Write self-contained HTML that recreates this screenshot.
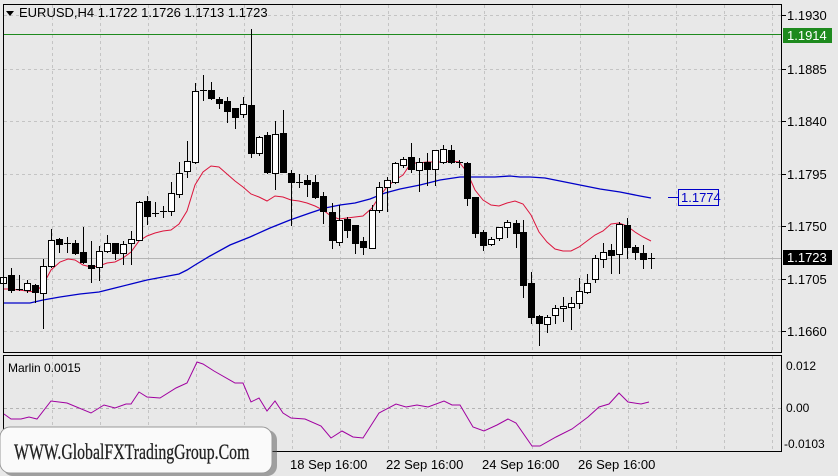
<!DOCTYPE html>
<html><head><meta charset="utf-8"><style>
html,body{margin:0;padding:0;background:#e8e8e8;width:838px;height:476px;overflow:hidden}
svg{display:block}
text{font-family:"Liberation Sans","DejaVu Sans",sans-serif;font-size:12px;fill:#000}
</style></head><body>
<svg id="s" width="838" height="476" xmlns="http://www.w3.org/2000/svg">
<rect x="0" y="0" width="838" height="476" fill="#e8e8e8"/>
<g id="grid" stroke="#c4c4c4" stroke-dasharray="3,3" stroke-width="1"></g>
<line x1="3" y1="258.5" x2="782" y2="258.5" stroke="#b4b4b4"/>
<line x1="3" y1="34.5" x2="782" y2="34.5" stroke="#1e8a1e"/>
<polyline id="blue" fill="none" stroke="#0000c8" stroke-width="1.3"/>
<polyline id="red" fill="none" stroke="#dc143c" stroke-width="1"/>
<g id="cand"></g>
<line x1="668" y1="197.5" x2="678" y2="197.5" stroke="#0000c8"/>
<rect x="678.5" y="189.5" width="40" height="16" fill="none" stroke="#0000c8"/>
<text x="681" y="202" style="fill:#0000c8;font-size:13px">1.1774</text>
<rect x="3.5" y="4.5" width="778" height="348" fill="none" stroke="#000"/>
<rect x="3.5" y="355.5" width="778" height="96" fill="none" stroke="#000"/>
<line x1="4" y1="408.5" x2="781" y2="408.5" stroke="#b4b4b4" stroke-dasharray="3,3"/>
<polyline id="marl" fill="none" stroke="#a000a0" stroke-width="1"/>
<g id="ax"></g>
<rect x="783" y="28" width="49" height="15" fill="#1e8a1e"/>
<text x="787" y="40" style="fill:#fff;font-size:13px">1.1914</text>
<rect x="783" y="250" width="49" height="15" fill="#000"/>
<text x="787" y="262" style="fill:#fff;font-size:13px">1.1723</text>
<path d="M6 11 L14 11 L10 16 Z" fill="#000"/>
<text x="19" y="17" style="font-size:13px">EURUSD,H4  1.1722 1.1726 1.1713 1.1723</text>
<text x="8" y="372">Marlin 0.0015</text>
<text x="786" y="370">0.012</text>
<text x="786" y="412">0.00</text>
<text x="784" y="448">-0.0103</text>
<text x="290" y="469" style="font-size:13px">18 Sep 16:00</text>
<text x="386" y="469" style="font-size:13px">22 Sep 16:00</text>
<text x="482" y="469" style="font-size:13px">24 Sep 16:00</text>
<text x="578" y="469" style="font-size:13px">26 Sep 16:00</text>
<rect x="3" y="430" width="274" height="46" rx="10" fill="#555" opacity="0.5"/>
<rect x="0" y="427" width="272" height="46" rx="10" fill="#fafafa" stroke="#999"/>
<text x="14" y="459" transform="translate(14,0) scale(0.72,1) translate(-14,0)" style="font-family:'Liberation Serif',serif;font-size:22px;fill:#222;stroke:#222;stroke-width:0.3">WWW.GlobalFXTradingGroup.Com</text>
</svg>
<script>
var NS="http://www.w3.org/2000/svg";
function el(p,t,a){var e=document.createElementNS(NS,t);for(var k in a)e.setAttribute(k,a[k]);p.appendChild(e);return e;}
var g=document.getElementById('grid');
[15,69,121,174,226,279,331].forEach(function(y){el(g,'line',{x1:4,x2:781,y1:y+.5,y2:y+.5});});
for(var x=52;x<780;x+=48){el(g,'line',{x1:x+.5,x2:x+.5,y1:5,y2:352});el(g,'line',{x1:x+.5,x2:x+.5,y1:356,y2:451});}
var ax=document.getElementById('ax');
[[15,'1.1930'],[69,'1.1885'],[121,'1.1840'],[174,'1.1795'],[226,'1.1750'],[279,'1.1705'],[331,'1.1660']].forEach(function(a){
 el(ax,'line',{x1:782,x2:786,y1:a[0]+.5,y2:a[0]+.5,stroke:'#000'});
 var t=el(ax,'text',{x:787,y:a[0]+5});t.style.fontSize='13px';t.textContent=a[1];});
var C=[[3,'w',277,283,247,290],[11,'b',275,290,268,292],[19,'d',289,289,275,290],[27,'w',283,290,280,292],[35,'b',285,292,284,302],
[43,'w',266,293,259,328],[51,'w',240,266,229,267],[59,'b',239,244,238,252],[67,'d',243,243,237,252],[75,'b',243,253,240,254],
[83,'b',252,262,227,263],[91,'b',265,268,241,282],[99,'w',251,267,246,280],[107,'w',243,251,235,252],[115,'b',243,253,243,259],
[123,'w',244,253,241,264],[131,'w',239,243,231,264],[139,'w',202,240,201,240],[147,'b',201,216,196,224],[155,'d',213,213,202,216],
[163,'d',211,211,206,217],[171,'w',193,211,182,215],[179,'w',173,194,162,197],[187,'w',161,171,141,177],[195,'w',91,162,83,163],
[203,'d',90,90,75,100],[211,'b',90,98,82,99],[219,'b',99,103,97,108],[227,'b',101,111,97,122],[235,'b',108,117,108,128],
[243,'w',104,114,97,117],[251,'b',105,153,29,157],[259,'w',137,153,136,155],[267,'b',135,172,132,173],[275,'w',134,173,121,189],
[283,'b',133,172,110,172],[291,'b',173,182,170,225],[299,'d',182,182,174,187],[307,'b',180,184,175,196],[315,'b',182,197,175,198],
[323,'b',196,211,192,223],[332,'b',212,240,203,248],[339,'w',220,242,205,245],[347,'b',219,230,217,237],[355,'b',225,243,225,253],
[363,'b',241,247,237,254],[372,'w',210,248,205,248],[379,'w',187,210,182,212],[387,'w',180,187,177,211],[395,'w',163,182,162,183],
[403,'w',159,165,157,167],[411,'b',157,169,143,172],[419,'w',162,170,158,191],[427,'b',162,169,153,185],[435,'w',150,169,150,185],
[443,'w',149,162,145,163],[451,'b',150,162,145,163],[459,'d',162,162,160,167],[467,'b',163,198,162,205],[475,'b',197,233,197,237],
[483,'b',232,245,230,250],[491,'w',239,244,237,245],[499,'w',227,238,227,240],[507,'w',222,227,220,237],[516,'b',223,233,220,247],
[523,'b',232,285,220,297],[531,'b',283,317,272,323],[539,'b',316,323,315,345],[547,'w',317,324,315,332],[555,'w',308,315,305,323],
[563,'w',306,308,297,321],[571,'w',303,307,297,329],[579,'w',291,303,278,308],[587,'w',283,292,274,293],[595,'w',258,279,255,282],
[603,'w',252,259,243,267],[611,'b',250,255,244,273],[619,'w',224,254,222,273],[627,'b',225,247,218,258],[635,'b',247,252,245,259],
[643,'b',253,259,245,268],[651,'d',258,258,253,268]];
var cg=document.getElementById('cand');
C.forEach(function(c){var x=c[0];
 el(cg,'line',{x1:x+.5,x2:x+.5,y1:c[4],y2:c[5]+1,stroke:'#000'});
 if(c[1]=='d'){el(cg,'line',{x1:x-3,x2:x+4,y1:c[2]+.5,y2:c[2]+.5,stroke:'#000'});}
 else el(cg,'rect',{x:x-2.5,y:c[2]+.5,width:6,height:Math.max(1,c[3]-c[2]),fill:c[1]=='w'?'#fff':'#000',stroke:'#000'});});
document.getElementById('red').setAttribute('points',"3,289 10,289 35,292 43,285 51,270 60,262 68,259 75,260 83,265 91,267 99,266 107,263 115,262 123,258 131,252 139,241 147,236 155,233 163,231 171,230 179,224 187,211 195,185 203,172 211,166 219,167 227,174 235,181 243,187 251,194 259,197 267,201 275,196 283,197 291,200 299,201 307,203 315,206 323,210 331,216 339,219 347,218 355,217 363,216 372,208 379,197 387,187 395,180 403,175 411,163 419,163 427,162 435,162 443,162 451,161 459,162 467,172 475,190 483,200 491,205 499,206 507,203 515,201 523,204 531,215 539,232 547,242 555,249 563,251 571,251 579,247 587,241 595,235 603,231 611,224 619,223 627,226 635,232 643,237 651,241");
document.getElementById('blue').setAttribute('points',"3,303 30,303 43,300 60,297 80,294 99,292 115,288 131,284 147,280 163,277 179,274 187,270 195,265 210,256 230,245 250,237 270,228 290,220 310,213 325,208 340,205 355,203 370,199 385,193 400,189 420,185 440,180 460,177 475,177 495,177 510,176 520,177 530,177 545,178 560,181 580,185 600,189 620,192 640,196 651,198");
document.getElementById('marl').setAttribute('points',"4,414 11,419 21,419 29,417 37,419 51,401 67,403 91,413 104,405 115,408 126,404 131,404 139,392 147,397 160,398 176,388 187,383 197,362 203,364 214,371 235,383 243,383 251,402 259,398 267,411 275,401 283,413 291,418 305,419 321,426 331,438 342,431 353,437 363,438 379,413 396,404 406,407 417,405 428,407 444,401 452,405 460,405 473,427 484,431 497,425 508,419 516,423 532,446 540,446 556,437 572,429 588,417 599,407 609,404 619,393 628,402 641,404 649,402");
</script>
</body></html>
